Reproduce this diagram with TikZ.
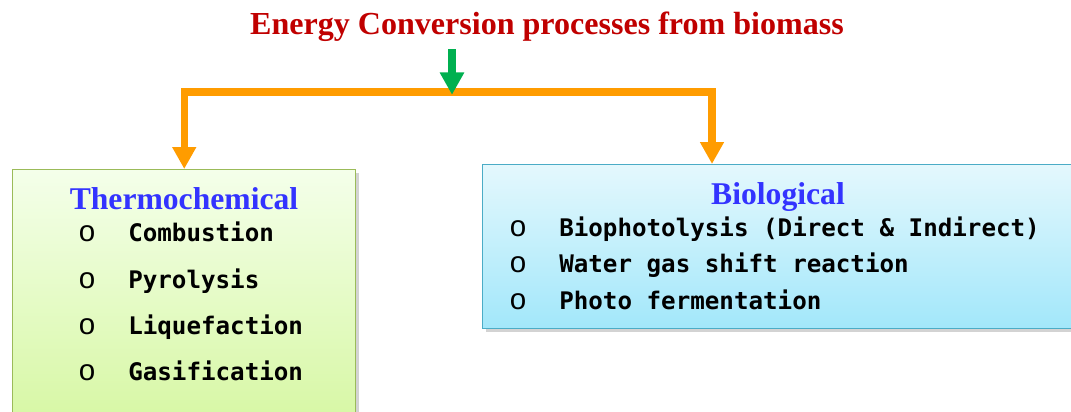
\documentclass[tikz,border=0pt]{standalone}
\usepackage{fontspec}
\setmainfont{Liberation Serif}
\setmonofont{DejaVu Sans Mono}
\newfontfamily\bulletfont{Liberation Sans}
\usetikzlibrary{arrows.meta,shadows}
\definecolor{titlered}{HTML}{C00000}
\definecolor{headblue}{HTML}{3333FF}
\definecolor{branchorange}{HTML}{FF9C00}
\definecolor{feedgreen}{HTML}{00B050}
\definecolor{thermoedge}{HTML}{9BBB59}
\definecolor{thermotop}{HTML}{F4FFEA}
\definecolor{thermobot}{HTML}{D6F7A2}
\definecolor{bioedge}{HTML}{4BACC6}
\definecolor{biotop}{HTML}{E4F8FD}
\definecolor{biobot}{HTML}{A2E7FA}

\begin{document}
\begin{tikzpicture}[x=0.025cm,y=-0.025cm,
    heading/.style={font=\bfseries\fontsize{22.5}{26}\selectfont, text=headblue, anchor=base, inner sep=0pt},
    item/.style={font=\ttfamily\bfseries\fontsize{17.2}{20}\selectfont, anchor=base west, inner sep=0pt},
    bullet/.style={font=\bulletfont\fontsize{21}{22}\selectfont, anchor=base, inner sep=0pt},
    box/.style={rectangle, anchor=north west, line width=1pt, inner sep=0pt,
        drop shadow={shadow xshift=2pt, shadow yshift=-2.5pt, opacity=0.35}},
    branch/.style={draw=branchorange, line width=5pt, line join=miter,
        -{Triangle[width=16pt,length=15.5pt]}},
    feed/.style={draw=feedgreen, line width=5.6pt,
        -{Triangle[width=16.5pt,length=16pt]}}]
    \useasboundingbox (0,0) rectangle (1071,412);
    \clip (0,0) rectangle (1071,412);

    \node[font=\bfseries\fontsize{22.8}{26}\selectfont, text=titlered, anchor=base, inner sep=0pt] (title) at (547,35) {Energy Conversion processes from biomass};

    \node[box, draw=thermoedge, top color=thermotop, bottom color=thermobot,
        minimum width=8.575cm, minimum height=6.5cm] (thermo) at (12,169) {};
    \node[box, draw=bioedge, top color=biotop, bottom color=biobot,
        minimum width=15cm, minimum height=4.1cm] (bio) at (482,164) {};

    \coordinate (split) at (452,92);
    \coordinate (bioin) at (712,164);
    \draw[branch] (split) -| (thermo.north);
    \draw[branch] (split) -| (bioin);
    \draw[feed, shorten <=5pt, shorten >=-2pt] (title.south -| split) -- (split);

    \node[heading] (thermohead) at (184,210) {Thermochemical};
    \foreach \txt [count=\i] in {Combustion,Pyrolysis,Liquefaction,Gasification} {
        \node[bullet] (tb\i) at (87,195.7+46.3*\i) {o};
        \node[item] (ti\i) at (128,195.7+46.3*\i) {\txt};
    }

    \node[heading] (biohead) at (778,205) {Biological};
    \foreach \txt [count=\i] in {Biophotolysis (Direct \& Indirect),Water gas shift reaction,Photo fermentation} {
        \node[bullet] (bb\i) at (518,201+36*\i) {o};
        \node[item] (bi\i) at (559,201+36*\i) {\txt};
    }
\end{tikzpicture}
\end{document}
